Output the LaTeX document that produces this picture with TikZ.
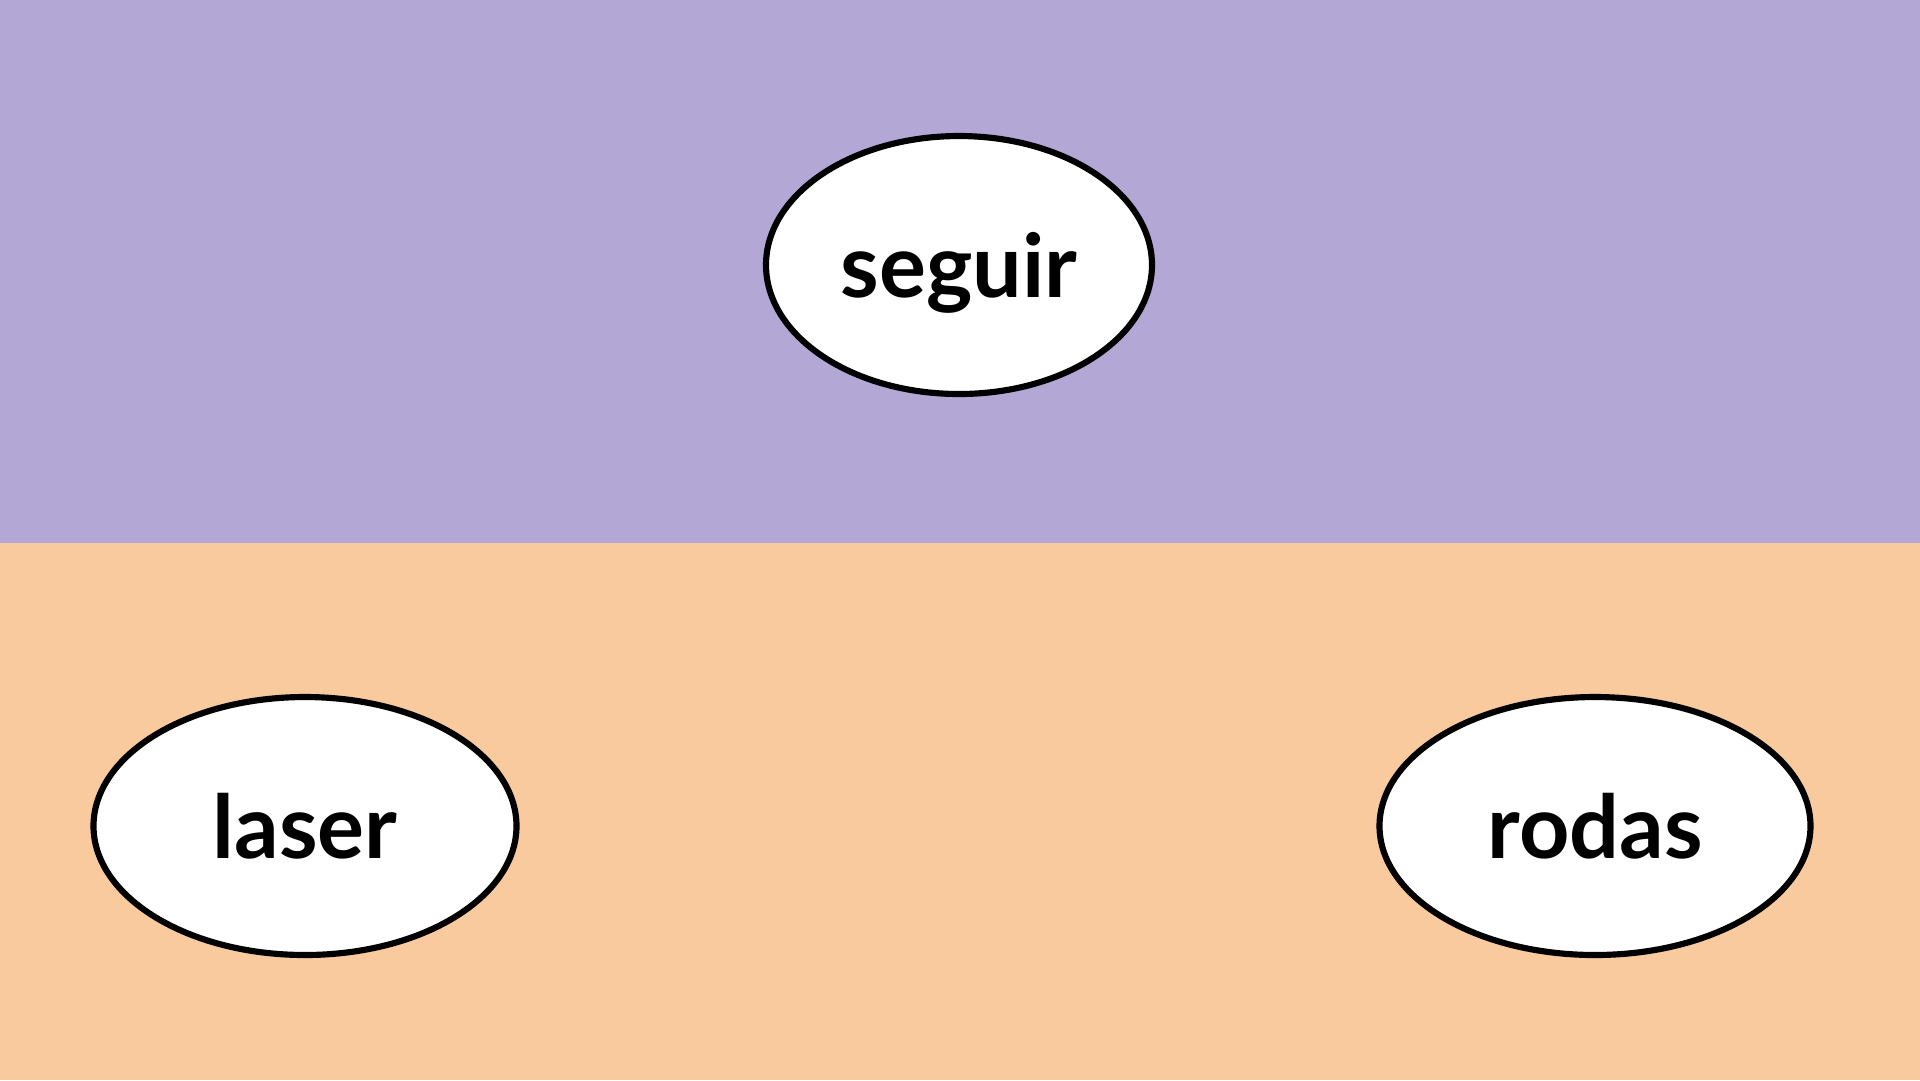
\documentclass[tikz,border=0pt]{standalone}
\usepackage{fontspec}
\setmainfont{Lato}
\usetikzlibrary{shapes.geometric}
\definecolor{bandTop}{HTML}{B3A7D6}
\definecolor{bandBottom}{HTML}{F8CA9D}

\begin{document}
\begin{tikzpicture}[x=0.1mm, y=-0.1mm,
  topic/.style={ellipse, draw=black, fill=white, line width=1.75pt,
                inner sep=0pt, minimum width=#1, minimum height=25.8mm,
                text depth=0pt,
                font=\fontsize{25}{29}\selectfont\bfseries}
]
  % bands
  \fill[bandTop] (0,0) rectangle (1920,543);
  \fill[bandBottom] (0,543) rectangle (1920,1080);
  \useasboundingbox (0,0) rectangle (1920,1080);

  \node[topic=38.6mm] (seguir) at (959,265) {seguir};
  \node[topic=42.3mm] (laser) at (305,826) {laser};
  \node[topic=43.1mm] (rodas) at (1595,826) {rodas};
\end{tikzpicture}
\end{document}
